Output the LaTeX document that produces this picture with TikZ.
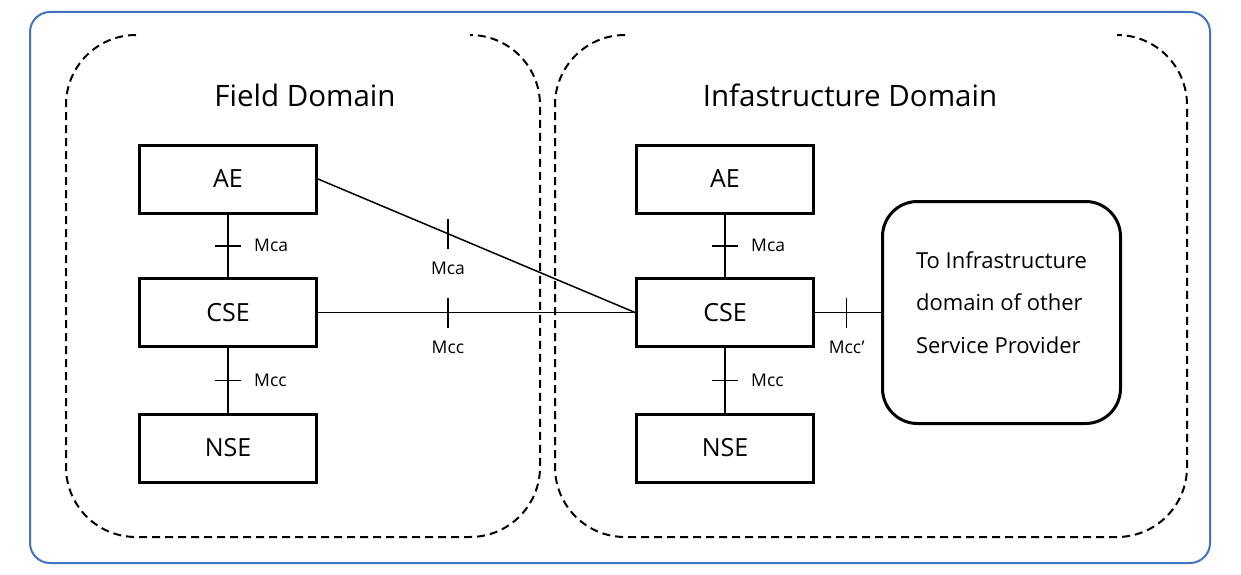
\documentclass[tikz,border=0pt]{standalone}
\usepackage{fontspec}
\setmainfont{Open Sans}
\definecolor{frameblue}{RGB}{68,114,196}
\begin{document}
\begin{tikzpicture}[x=1pt,y=-1pt,
  ent/.style={draw, line width=3pt, minimum width=177pt, minimum height=68pt, inner sep=0pt, font=\fontsize{25}{30}\selectfont},
  conn/.style={line width=1.5pt},
  tk/.style={line width=1.5pt},
  lbl/.style={font=\fontsize{17.5}{20}\selectfont, inner sep=0pt},
  dom/.style={dash pattern=on 8pt off 5pt, line width=2pt, rounded corners=70pt},
  ttl/.style={font=\fontsize{29.5}{34}\selectfont, inner sep=0pt},
  other/.style={draw, line width=3pt, rounded corners=35pt, minimum width=238pt, minimum height=222pt, inner sep=0pt}
]
\useasboundingbox (0,0) rectangle (1241,575);
% outer frame
\draw[frameblue, line width=2pt, rounded corners=20pt] (30,12) rectangle (1210,563);
% domains (top edge not drawn)
\draw[dom] (136,35) -- (66,35) -- (66,537) -- (540,537) -- (540,35) -- (470,35);
\draw[dom] (625,35) -- (555,35) -- (555,537) -- (1187,537) -- (1187,35) -- (1117,35);
% titles
\node[ttl] (tfield) at (305,95) {Field Domain};
\node[ttl] (tinfra) at (850,95) {Infastructure Domain};
% entities
\node[ent] (lae) at (228,179) {AE};
\node[ent] (lcse) at (228,312.5) {CSE};
\node[ent] (lnse) at (228,448) {NSE};
\node[ent] (rae) at (725,179) {AE};
\node[ent] (rcse) at (725,312.5) {CSE};
\node[ent] (rnse) at (725,448) {NSE};
\node[other] (oth) at (1001.5,312.5) {};
\node[align=left, inner sep=0pt, font=\fontsize{22}{42.5}\selectfont] (othtxt) at ([yshift=10pt]oth.center) {To Infrastructure\\domain of other\\Service Provider};
% vertical connectors
\draw[conn] (lae) -- (lcse) coordinate[pos=.5] (t1);
\draw[conn] (lcse) -- (lnse) coordinate[pos=.5] (t2);
\draw[conn] (rae) -- (rcse) coordinate[pos=.5] (t3);
\draw[conn] (rcse) -- (rnse) coordinate[pos=.5] (t4);
\foreach \t/\l in {t1/Mca, t2/Mcc, t3/Mca, t4/Mcc}{
  \draw[tk] ([xshift=-13pt]\t) -- ([xshift=13pt]\t);
  \node[lbl, anchor=west] (lb\t) at ([xshift=26pt]\t) {\l};
}
% cross-domain connectors
\draw[conn] (lae.east) -- (rcse.west) coordinate[pos=.41] (t5);
\draw[conn] (lcse.east) -- (rcse.west) coordinate[pos=.41] (t6);
\draw[conn] (rcse.east) -- (oth.west) coordinate[pos=.48] (t7);
\foreach \t/\l in {t5/Mca, t6/Mcc, t7/Mcc'}{
  \draw[tk] ([yshift=-15pt]\t) -- ([yshift=15pt]\t);
  \node[lbl] (lb\t) at ([yshift=-35pt]\t) {\l};
}
\end{tikzpicture}
\end{document}
